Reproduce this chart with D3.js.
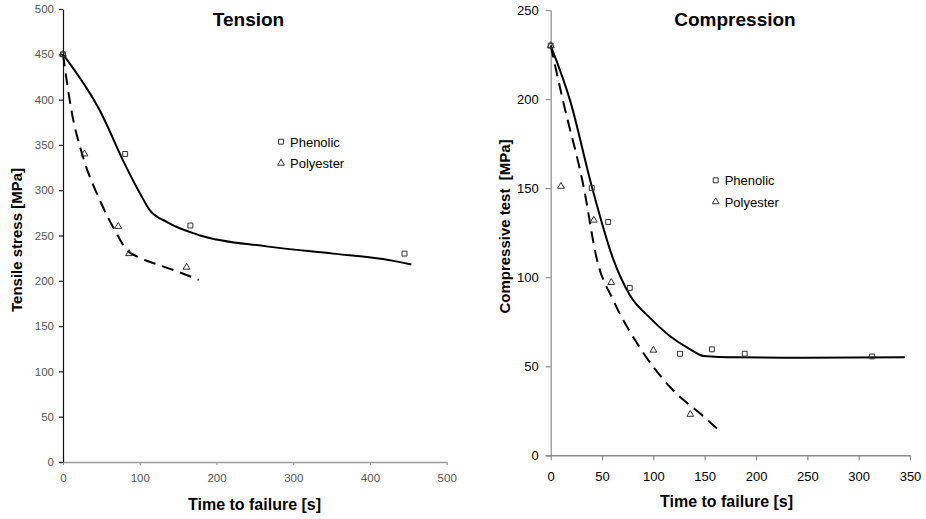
<!DOCTYPE html>
<html><head><meta charset="utf-8">
<script src="https://cdn.jsdelivr.net/npm/d3@7"></script>
<style>
html,body{margin:0;padding:0;background:#fff;}
svg{display:block;font-family:Arial,"Liberation Sans",sans-serif;}
</style></head>
<body><svg id="c" width="926" height="519"></svg>
<script>
// ---- Data: Tension ----
const tensionPhenolicTime = [0, 81, 166, 445];
const tensionPhenolicStress = [450, 340, 261, 230];
const tensionPolyesterTime = [0, 28, 72, 86, 161];
const tensionPolyesterStress = [450, 340, 260, 230, 215];
const tensionPhenolicFitTime = [0, 48, 81, 100, 113, 135, 179, 265, 352, 417, 454];
const tensionPhenolicFitStress = [450, 388, 328, 297, 278, 265, 250, 238, 230, 224, 218];
const tensionPolyesterFitTime = [0, 11, 26, 48, 70, 83, 96, 123, 150, 177];
const tensionPolyesterFitStress = [450, 388, 337, 289, 252, 234, 227, 218, 210, 201];
const tensionXTicks = [0, 100, 200, 300, 400, 500];
const tensionYTicks = [0, 50, 100, 150, 200, 250, 300, 350, 400, 450, 500];

// ---- Data: Compression ----
const compPhenolicTime = [0, 40, 56, 77, 126, 157, 189, 313];
const compPhenolicStress = [230, 150, 131, 94, 57, 59.5, 57, 55.5];
const compPolyesterTime = [0, 10, 42, 59, 100, 136];
const compPolyesterStress = [230, 151, 132, 97, 59, 23];
const compPhenolicFitTime = [0, 19, 40, 61, 77, 97, 116, 136, 149, 181, 246, 345];
const compPhenolicFitStress = [230, 199, 151, 110, 90, 77, 67, 59.5, 55.8, 55, 54.8, 55];
const compPolyesterFitTime = [0, 12, 32, 45, 61, 84, 116, 149, 162];
const compPolyesterFitStress = [230, 199, 151, 110, 87, 63, 38.5, 21.7, 15];
const compXTicks = [0, 50, 100, 150, 200, 250, 300, 350];
const compYTicks = [0, 50, 100, 150, 200, 250];

const seriesNames = ["Phenolic", "Polyester"];

const svg = d3.select("#c");
const zip = (a, b) => a.map((v, i) => [v, b[i]]);

function drawPanel(cfg) {
  const x = d3.scaleLinear().domain(cfg.xDomain).range(cfg.xRange);
  const y = d3.scaleLinear().domain(cfg.yDomain).range(cfg.yRange);
  const g = svg.append("g");

  // axes
  const xa = g.append("g").attr("transform", `translate(0,${cfg.yRange[0]})`)
    .call(d3.axisBottom(x).tickValues(cfg.xTicks).tickSize(cfg.xTickSize).tickPadding(cfg.xPad).tickSizeOuter(0));
  const ya = g.append("g").attr("transform", `translate(${cfg.xRange[0]},0)`)
    .call(d3.axisLeft(y).tickValues(cfg.yTicks).tickSize(cfg.yTickSize).tickPadding(cfg.yPad).tickSizeOuter(0));
  xa.select(".domain").attr("stroke", cfg.xAxisColor).attr("stroke-width", 1.5)
    .attr("d", `M${cfg.xRange[0] - cfg.yTickSize},0.5H${cfg.xRange[1]}`);
  xa.selectAll(".tick line").attr("stroke", cfg.xAxisColor).attr("stroke-width", 1.2);
  ya.select(".domain").attr("stroke", cfg.yAxisColor).attr("stroke-width", 1.2);
  ya.selectAll(".tick line").attr("stroke", cfg.yAxisColor).attr("stroke-width", 1.2);
  [xa, ya].forEach(a => a.selectAll(".tick text")
    .attr("font-family", "Arial, 'Liberation Sans', sans-serif")
    .attr("font-size", cfg.tickFont).attr("fill", cfg.tickColor));

  // fit curves
  const line = d3.line().x(d => x(d[0])).y(d => y(d[1])).curve(d3.curveMonotoneX);
  g.append("path").attr("d", line(cfg.fitA)).attr("fill", "none")
    .attr("stroke", "#000").attr("stroke-width", 2);
  g.append("path").attr("d", line(cfg.fitB)).attr("fill", "none")
    .attr("stroke", "#000").attr("stroke-width", 2).attr("stroke-dasharray", "12,7");

  // markers
  const sq = d3.symbol().type(d3.symbolSquare).size(24);
  const tri = d3.symbol().type(d3.symbolTriangle).size(20);
  g.selectAll(".pa").data(cfg.ptsA).join("path")
    .attr("transform", d => `translate(${x(d[0])},${y(d[1])})`).attr("d", sq)
    .attr("fill", "none").attr("stroke", "#333").attr("stroke-width", 1);
  g.selectAll(".pb").data(cfg.ptsB).join("path")
    .attr("transform", d => `translate(${x(d[0])},${y(d[1])})`).attr("d", tri)
    .attr("fill", "none").attr("stroke", "#333").attr("stroke-width", 1);

  // legend
  const lg = g.append("g").attr("transform", `translate(${cfg.legend[0]},${cfg.legend[1]})`);
  seriesNames.forEach((name, i) => {
    const row = lg.append("g").attr("transform", `translate(0,${i * 21.5})`);
    row.append("path").attr("d", i === 0 ? sq : tri).attr("fill", "none")
      .attr("stroke", "#333").attr("stroke-width", 1);
    row.append("text").attr("x", 9).attr("y", 5).attr("font-size", 13).attr("fill", "#000").text(name);
  });

  // titles
  g.append("text").attr("x", cfg.title[1]).attr("y", 26).attr("text-anchor", "middle")
    .attr("font-size", 19).attr("font-weight", "bold").text(cfg.title[0]);
  g.append("text").attr("x", cfg.xLabel[1]).attr("y", cfg.xLabel[2]).attr("text-anchor", "middle")
    .attr("font-size", 16).attr("font-weight", "bold").text(cfg.xLabel[0]);
  g.append("text").attr("transform", `translate(${cfg.yLabel[1]},${cfg.yLabel[2]}) rotate(-90)`)
    .attr("text-anchor", "middle").attr("font-size", 15).attr("font-weight", "bold")
    .attr("xml:space", "preserve").style("white-space", "pre").text(cfg.yLabel[0]);
}

drawPanel({
  xDomain: [0, 500], xRange: [63, 446.7], yDomain: [0, 500], yRange: [462, 9],
  xTicks: tensionXTicks, yTicks: tensionYTicks,
  xTickSize: 3, yTickSize: 4, xPad: 9, yPad: 5,
  xAxisColor: "#9a9a9a", yAxisColor: "#111", tickColor: "#555", tickFont: 11.5,
  fitA: zip(tensionPhenolicFitTime, tensionPhenolicFitStress),
  fitB: zip(tensionPolyesterFitTime, tensionPolyesterFitStress),
  ptsA: zip(tensionPhenolicTime, tensionPhenolicStress),
  ptsB: zip(tensionPolyesterTime, tensionPolyesterStress),
  legend: [281, 141.7],
  title: ["Tension", 248.5],
  xLabel: ["Time to failure [s]", 254.5, 510],
  yLabel: ["Tensile stress [MPa]", 22, 240]
});

drawPanel({
  xDomain: [0, 350], xRange: [550.7, 910], yDomain: [0, 250], yRange: [455.3, 10],
  xTicks: compXTicks, yTicks: compYTicks,
  xTickSize: 5, yTickSize: 5, xPad: 11, yPad: 7,
  xAxisColor: "#8a8a8a", yAxisColor: "#8a8a8a", tickColor: "#000", tickFont: 13,
  fitA: zip(compPhenolicFitTime, compPhenolicFitStress),
  fitB: zip(compPolyesterFitTime, compPolyesterFitStress),
  ptsA: zip(compPhenolicTime, compPhenolicStress),
  ptsB: zip(compPolyesterTime, compPolyesterStress),
  legend: [715.7, 180.3],
  title: ["Compression", 735],
  xLabel: ["Time to failure [s]", 726.5, 506.5],
  yLabel: ["Compressive test  [MPa]", 510, 226.5]
});
</script>
</body></html>
